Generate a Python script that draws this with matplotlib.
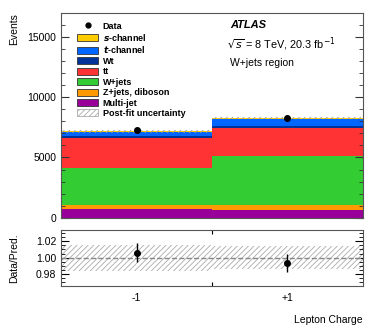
import matplotlib
matplotlib.use("Agg")
import matplotlib.pyplot as plt
import numpy as np
from matplotlib.patches import Patch
from matplotlib.lines import Line2D
from matplotlib.ticker import MultipleLocator, FixedLocator, NullFormatter

plt.rcParams['font.family'] = ['Liberation Sans', 'DejaVu Sans']
plt.rcParams['hatch.color'] = '#999999'
plt.rcParams['hatch.linewidth'] = 0.6

# Data
bin_edges = [-2, 0, 2]
bin_centers = [-1, 1]
tick_labels = ['-1', '+1']
processes = ['Multi-jet', 'Z+jets, diboson', 'W+jets', r't$\bar{\mathrm{t}}$', 'Wt', 't-channel', 's-channel']
multijet = [700, 680]
zjets = [360, 380]
wjets = [3110, 4025]
ttbar = [2450, 2370]
wt = [140, 190]
tchan = [370, 520]
schan = [40, 110]
data = [7283, 8250]
unc_rel = [0.016, 0.014]
ratio_vals = [1.006, 0.9935]
ratio_err = [0.0115, 0.0107]

colors = {
    'Multi-jet': '#990099',
    'Z+jets, diboson': '#FF9900',
    'W+jets': '#33CC33',
    'ttbar': '#FF3333',
    'Wt': '#003399',
    't-channel': '#0066FF',
    's-channel': '#FFCC00',
}

fig = plt.figure(figsize=(3.82, 3.28), dpi=100)
ax = fig.add_axes([0.16, 0.336, 0.79, 0.625])
rax = fig.add_axes([0.16, 0.128, 0.79, 0.171])

stack = [multijet, zjets, wjets, ttbar, wt, tchan, schan]
ckeys = ['Multi-jet', 'Z+jets, diboson', 'W+jets', 'ttbar', 'Wt', 't-channel', 's-channel']
bottom = np.zeros(2)
for vals, k in zip(stack, ckeys):
    v = np.array(vals, float)
    ax.bar(bin_centers, v, width=2, bottom=bottom, color=colors[k], edgecolor='none', linewidth=0)
    bottom = bottom + v
total = bottom

unc = total * np.array(unc_rel)
ax.bar(bin_centers, 2 * unc, width=2, bottom=total - unc, color='none', edgecolor='#999999',
       hatch='//////', linewidth=0)

ax.errorbar(bin_centers, data, yerr=np.sqrt(data), fmt='o', color='black', ms=4, elinewidth=1, capsize=0)

ax.set_xlim(-2, 2)
ax.set_ylim(0, 17000)
ax.yaxis.set_major_locator(MultipleLocator(5000))
ax.yaxis.set_minor_locator(MultipleLocator(1000))
ax.set_xticks([])
ax.tick_params(axis='y', which='both', direction='in', right=True, labelsize=7.5, colors='#333333', labelcolor='black')
ax.tick_params(axis='y', which='major', length=6)
ax.tick_params(axis='y', which='minor', length=3)
for s in ax.spines.values():
    s.set_color('#555555')
ax.set_ylabel('Events', fontsize=7.5, loc='top')

# legend
handles = [
    Line2D([], [], marker='o', color='black', ls='none', ms=3.5),
    Patch(facecolor=colors['s-channel'], edgecolor='#333333', lw=0.6),
    Patch(facecolor=colors['t-channel'], edgecolor='#333333', lw=0.6),
    Patch(facecolor=colors['Wt'], edgecolor='#333333', lw=0.6),
    Patch(facecolor=colors['ttbar'], edgecolor='#333333', lw=0.6),
    Patch(facecolor=colors['W+jets'], edgecolor='#333333', lw=0.6),
    Patch(facecolor=colors['Z+jets, diboson'], edgecolor='#333333', lw=0.6),
    Patch(facecolor=colors['Multi-jet'], edgecolor='#333333', lw=0.6),
    Patch(facecolor='white', edgecolor='#aaaaaa', hatch='//////', lw=0.6),
]
labels = ['Data', r'$\mathbfit{s}$-channel', r'$\mathbfit{t}$-channel', 'Wt', 'tt', 'W+jets',
          'Z+jets, diboson', 'Multi-jet', 'Post-fit uncertainty']
leg = ax.legend(handles, labels, loc='upper left', bbox_to_anchor=(0.04, 0.975), frameon=False,
                prop={'weight': 'bold', 'size': 6.5}, handlelength=2.4, handleheight=0.8,
                labelspacing=0.16, borderaxespad=0, handletextpad=0.45)

ax.text(0.56, 0.925, 'ATLAS', transform=ax.transAxes, fontsize=8, fontweight='bold', fontstyle='italic')
ax.text(0.55, 0.83, r'$\sqrt{s}$ = 8 TeV, 20.3 fb$^{-1}$', transform=ax.transAxes, fontsize=7.8)
ax.text(0.56, 0.74, 'W+jets region', transform=ax.transAxes, fontsize=7.5)

# ratio panel
for c, r in zip(bin_centers, unc_rel):
    rax.bar(c, 2 * r, width=2, bottom=1 - r, color='none', edgecolor='#aaaaaa', hatch='//////', linewidth=0)
rax.axhline(1.0, color='#888888', ls='--', lw=1)
rax.errorbar(bin_centers, ratio_vals, yerr=ratio_err, fmt='o', color='black', ms=4, elinewidth=1, capsize=0)
rax.set_xlim(-2, 2)
rax.set_ylim(0.965, 1.034)
rax.yaxis.set_major_locator(MultipleLocator(0.02))
rax.yaxis.set_minor_locator(MultipleLocator(0.005))
rax.yaxis.set_major_formatter(matplotlib.ticker.FormatStrFormatter('%.2f'))
rax.xaxis.set_major_locator(FixedLocator([0]))
rax.xaxis.set_major_formatter(NullFormatter())
rax.xaxis.set_minor_locator(FixedLocator(bin_centers))
rax.set_xticklabels(tick_labels, minor=True)
rax.tick_params(axis='x', which='minor', length=0, labelsize=7.5, pad=5)
rax.tick_params(axis='x', which='major', direction='in', top=True, length=3)
rax.tick_params(axis='y', which='both', direction='in', right=True, labelsize=7.5)
rax.tick_params(axis='y', which='major', length=6)
rax.tick_params(axis='y', which='minor', length=3)
for s in rax.spines.values():
    s.set_color('#555555')
rax.set_ylabel('Data/Pred.', fontsize=7.5)
rax.set_xlabel('Lepton Charge', fontsize=7.5, loc='right', labelpad=9)

ax.yaxis.set_label_coords(-0.14, 1.0)
rax.yaxis.set_label_coords(-0.14, 0.5)

fig.savefig('out.png', dpi=100)
